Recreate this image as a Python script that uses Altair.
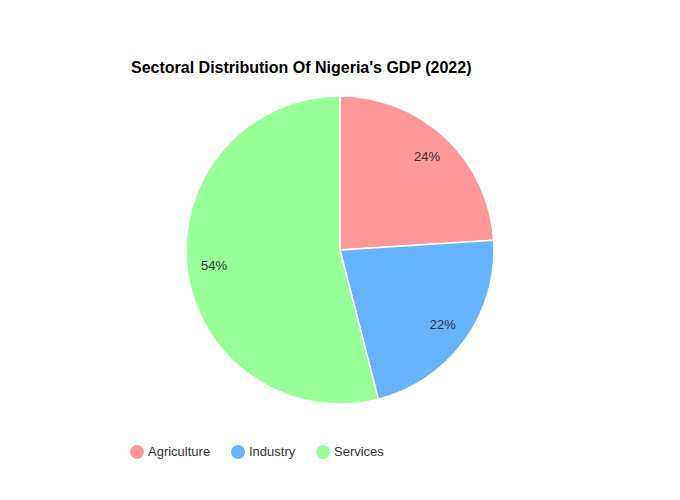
import altair as alt
import pandas as pd

sectors = ["Agriculture", "Industry", "Services"]
shares = [24, 22, 54]
colors = ["#ff9999", "#66b3ff", "#99ff99"]
title_text = ["Sectoral Distribution Of Nigeria's GDP (2022)"]

df = pd.DataFrame({"sector": sectors, "share": shares, "order": list(range(len(sectors)))})
df["label"] = df["share"].astype(str) + "%"

FONT = "Liberation Sans"

base = alt.Chart(df).encode(
    theta=alt.Theta("share:Q", stack=True),
    order=alt.Order("order:Q"),
)

arcs = base.mark_arc(radius=154, stroke="white", strokeWidth=1.5).encode(
    color=alt.Color(
        "sector:N",
        scale=alt.Scale(domain=sectors, range=colors),
        sort=sectors,
        legend=alt.Legend(
            title=None,
            orient="none",
            direction="horizontal",
            legendX=130,
            legendY=445,
            symbolType="circle",
            symbolSize=196,
            symbolStrokeWidth=0,
            labelFont=FONT,
            labelFontSize=13,
            labelColor="#333333",
            labelOffset=4,
            columnPadding=20,
        ),
    )
)

labels = base.mark_text(radius=127, font=FONT, fontSize=13, color="#333333").encode(
    text="label:N"
)

title_df = pd.DataFrame({"t": title_text})
title = alt.Chart(title_df).mark_text(
    font=FONT, fontSize=16, fontWeight="bold", color="#000000",
    align="left", baseline="alphabetic"
).encode(x=alt.value(131), y=alt.value(73), text="t:N")

chart = alt.layer(arcs, labels, title).properties(
    width=680, height=500, padding=0,
    autosize=alt.AutoSizeParams(type="none"),
).configure_view(stroke=None)

chart.save("out.html", embed_options={"renderer": "svg", "actions": False})
